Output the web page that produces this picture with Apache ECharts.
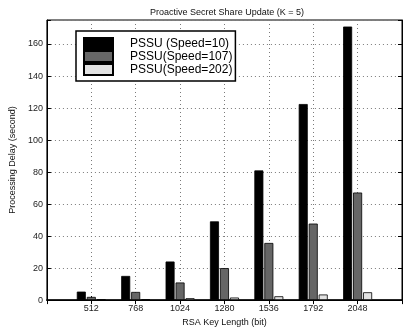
<!DOCTYPE html>
<html>
<head>
<meta charset="utf-8">
<script src="https://cdn.jsdelivr.net/npm/echarts@6/dist/echarts.min.js"></script>
<style>
  html, body { margin: 0; padding: 0; background: #fff; }
  #chart { width: 403px; height: 332px; }
</style>
</head>
<body>
<div id="chart"></div>
<script>
// RSA key lengths (bit)
const keyLengths = [512, 768, 1024, 1280, 1536, 1792, 2048];
// Processing delay (second) for each node speed
const speed10 = [5.3, 15.1, 24.1, 49.2, 81.0, 122.5, 170.9];
const speed107 = [2.0, 5.1, 11.0, 20.0, 35.7, 47.8, 67.2];
const speed202 = [0.3, 0.4, 1.2, 1.6, 2.4, 3.5, 4.9];
const seriesNames = ['PSSU (Speed=10)', 'PSSU(Speed=107)', 'PSSU(Speed=202)'];
const yTicks = [0, 20, 40, 60, 80, 100, 120, 140, 160];

const FONT = 'Liberation Sans, Arial, sans-serif';
const gridLine = { show: true, lineStyle: { color: '#7a7a7a', type: [1, 3], width: 1 } };

const chart = echarts.init(document.getElementById('chart'), null, { renderer: 'canvas' });

function pairs(values) {
  return keyLengths.map((k, i) => [k, values[i]]);
}

function barSeries(name, values, color) {
  return {
    name: name,
    type: 'bar',
    data: pairs(values),
    barWidth: 9,
    barGap: '11%',
    itemStyle: { color: color, borderColor: '#000', borderWidth: 0.8 },
    emphasis: { disabled: true }
  };
}

chart.setOption({
  animation: false,
  backgroundColor: '#fff',
  title: {
    text: 'Proactive Secret Share Update (K = 5)',
    left: 222, top: 3, textAlign: 'center',
    textStyle: { fontFamily: FONT, fontSize: 9, fontWeight: 'normal', color: '#111' }
  },
  grid: { left: 41, top: 20, right: 1, bottom: 28, show: true, borderColor: '#000', borderWidth: 1 },
  legend: {
    orient: 'vertical',
    left: 76, top: 31,
    itemWidth: 29, itemHeight: 11, itemGap: 0,
    padding: [6, 3, 5, 7],
    backgroundColor: '#fff',
    borderColor: '#000', borderWidth: 1.5,
    icon: 'rect',
    data: seriesNames,
    textStyle: { fontFamily: FONT, fontSize: 12, color: '#000', padding: [0, 0, 0, 12], lineHeight: 11 },
    selectedMode: false
  },
  xAxis: [{
    type: 'value',
    min: 256, max: 2304, interval: 256,
    name: 'RSA Key Length (bit)',
    nameLocation: 'middle', nameGap: 14,
    nameTextStyle: { fontFamily: FONT, fontSize: 9, color: '#111' },
    axisLine: { show: true, lineStyle: { color: '#000', width: 1.5 } },
    axisTick: { show: true, inside: true, length: 4, lineStyle: { color: '#000' } },
    axisLabel: {
      fontFamily: FONT, fontSize: 9, color: '#222', margin: 4,
      showMinLabel: false, showMaxLabel: false,
      formatter: v => String(v)
    },
    splitLine: gridLine
  }, {
    type: 'value', position: 'top',
    min: 256, max: 2304, interval: 256,
    axisLine: { show: true, lineStyle: { color: '#000' } },
    axisTick: { show: true, inside: true, length: 4, lineStyle: { color: '#000' } },
    axisLabel: { show: false },
    splitLine: { show: false }
  }],
  yAxis: [{
    type: 'value',
    min: 0, max: 175, interval: 20,
    name: 'Processing Delay (second)',
    nameLocation: 'middle', nameGap: 18,
    nameTextStyle: { fontFamily: FONT, fontSize: 9, color: '#111' },
    axisLine: { show: true, lineStyle: { color: '#000' } },
    axisTick: { show: true, inside: true, length: 4, lineStyle: { color: '#000' } },
    axisLabel: {
      fontFamily: FONT, fontSize: 9, color: '#222', margin: 4,
      formatter: v => (yTicks.indexOf(v) >= 0 ? String(v) : '')
    },
    splitLine: gridLine
  }, {
    type: 'value', position: 'right',
    min: 0, max: 175, interval: 20,
    axisLine: { show: true, lineStyle: { color: '#000' } },
    axisTick: { show: true, inside: true, length: 4, lineStyle: { color: '#000' } },
    axisLabel: { show: false },
    splitLine: { show: false }
  }],
  series: [
    barSeries(seriesNames[0], speed10, '#000000'),
    barSeries(seriesNames[1], speed107, '#666666'),
    barSeries(seriesNames[2], speed202, '#e2e2e2')
  ]
});
</script>
</body>
</html>
